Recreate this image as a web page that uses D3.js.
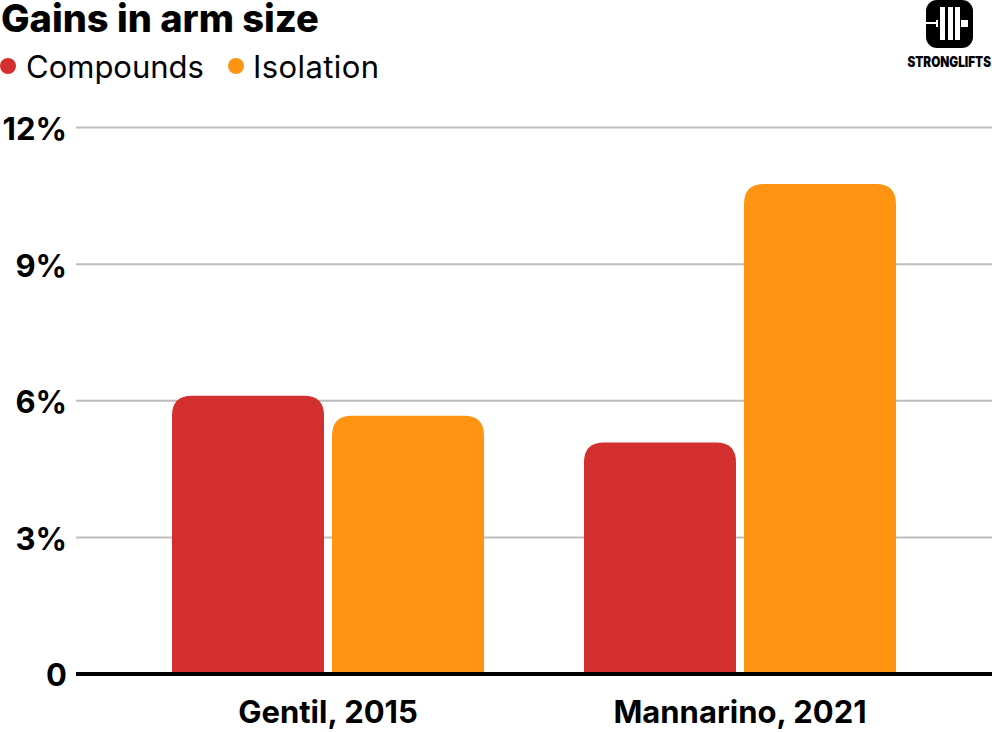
<!DOCTYPE html>
<html>
<head>
<meta charset="utf-8">
<script src="https://cdn.jsdelivr.net/npm/d3@7"></script>
<style>
  html, body { margin: 0; padding: 0; background: #fff; }
  text { font-family: Inter, "Liberation Sans", sans-serif; fill: #000; }
</style>
</head>
<body>
<div id="chart"></div>
<script>
// Datos del gráfico
const studies = ["Gentil, 2015", "Mannarino, 2021"];
const seriesNames = ["Compounds", "Isolation"];
const compounds = [6.1, 5.07];
const isolation = [5.66, 10.75];
const seriesColors = ["#d32f2f", "#ff9312"];
const yTicks = [0, 3, 6, 9, 12];

const width = 992;
const height = 732;

const svg = d3.select("#chart").append("svg")
    .attr("width", width)
    .attr("height", height)
    .attr("viewBox", [0, 0, width, height])
    .style("display", "block");

// Escalas
const x0 = d3.scaleBand()
    .domain(studies)
    .range([172, 896])
    .paddingInner(100 / 412)
    .paddingOuter(0);

const x1 = d3.scaleBand()
    .domain(seriesNames)
    .range([0, x0.bandwidth()])
    .paddingInner(8 / 160);

const y = d3.scaleLinear()
    .domain([0, 12])
    .range([673.5, 127]);

const color = d3.scaleOrdinal().domain(seriesNames).range(seriesColors);

// Líneas de la cuadrícula y etiquetas del eje Y
const yAxis = svg.append("g")
    .attr("transform", "translate(76,0)")
    .call(d3.axisLeft(y).tickValues(yTicks).tickSize(0).tickPadding(9)
        .tickFormat(d => d === 0 ? "0" : d + "%"));
yAxis.select(".domain").remove();
yAxis.selectAll("text")
    .attr("font-size", 31)
    .attr("font-weight", 700)
    .style("font-family", "Inter, sans-serif")
    .attr("dy", "0.4em");
yAxis.selectAll(".tick line")
    .attr("x2", width - 76)
    .attr("stroke", d => d === 0 ? "none" : "#bdbdbd")
    .attr("stroke-width", 2);

// Barras con esquinas superiores redondeadas
const r = 20;
function barPath(x, yTop, w, yBottom) {
    return `M${x},${yBottom}V${yTop + r}Q${x},${yTop} ${x + r},${yTop}` +
        `H${x + w - r}Q${x + w},${yTop} ${x + w},${yTop + r}V${yBottom}Z`;
}

const rows = studies.map((s, i) => ({ study: s, values: [compounds[i], isolation[i]] }));

svg.append("g")
    .selectAll("g")
    .data(rows)
    .join("g")
    .attr("transform", d => `translate(${x0(d.study)},0)`)
    .selectAll("path")
    .data(d => d.values.map((v, i) => ({ key: seriesNames[i], value: v })))
    .join("path")
    .attr("fill", d => color(d.key))
    .attr("d", d => barPath(x1(d.key), y(d.value), x1.bandwidth(), y(0)));

// Línea base
svg.append("line")
    .attr("x1", 76)
    .attr("x2", width)
    .attr("y1", y(0) + 0.5)
    .attr("y2", y(0) + 0.5)
    .attr("stroke", "#000")
    .attr("stroke-width", 4);

// Etiquetas del eje X
svg.append("g")
    .selectAll("text")
    .data(studies)
    .join("text")
    .attr("x", d => x0(d) + x0.bandwidth() / 2)
    .attr("y", 723)
    .attr("text-anchor", "middle")
    .attr("font-size", 31)
    .attr("font-weight", 700)
    .text(d => d);

// Título
svg.append("text")
    .attr("x", 1)
    .attr("y", 32)
    .attr("font-size", 38)
    .attr("font-weight", 800)
    .text("Gains in arm size");

// Leyenda
const legendX = [8, 236];
const legend = svg.append("g")
    .selectAll("g")
    .data(seriesNames)
    .join("g")
    .attr("transform", (d, i) => `translate(${legendX[i]},66)`);
legend.append("circle")
    .attr("r", 8)
    .attr("fill", d => color(d));
legend.append("text")
    .attr("x", (d, i) => i === 0 ? 18 : 17)
    .attr("y", 12)
    .attr("font-size", 31)
    .attr("font-weight", 400)
    .attr("letter-spacing", (d, i) => i === 0 ? 0 : 0.4)
    .text(d => d);

// Logo
const logo = svg.append("g").attr("transform", "translate(926,0)");
logo.append("rect").attr("width", 47).attr("height", 48).attr("rx", 11).attr("fill", "#000");
logo.append("rect").attr("x", 0).attr("y", 22).attr("width", 11).attr("height", 2).attr("fill", "#fff");
logo.append("rect").attr("x", 10).attr("y", 20).attr("width", 2).attr("height", 7).attr("fill", "#fff");
logo.append("rect").attr("x", 35).attr("y", 20).attr("width", 7).attr("height", 7).attr("fill", "#fff");
[14, 22, 29].forEach(bx => {
    logo.append("rect").attr("x", bx).attr("y", 7).attr("width", 5).attr("height", 33).attr("fill", "#fff");
});
// Texto del logo comprimido con una escala para que quepa en el margen
svg.append("text")
    .attr("transform", "translate(991,67) scale(0.84,1)")
    .attr("text-anchor", "end")
    .attr("font-size", 14)
    .attr("font-weight", 900)
    .text("STRONGLIFTS");
</script>
</body>
</html>
